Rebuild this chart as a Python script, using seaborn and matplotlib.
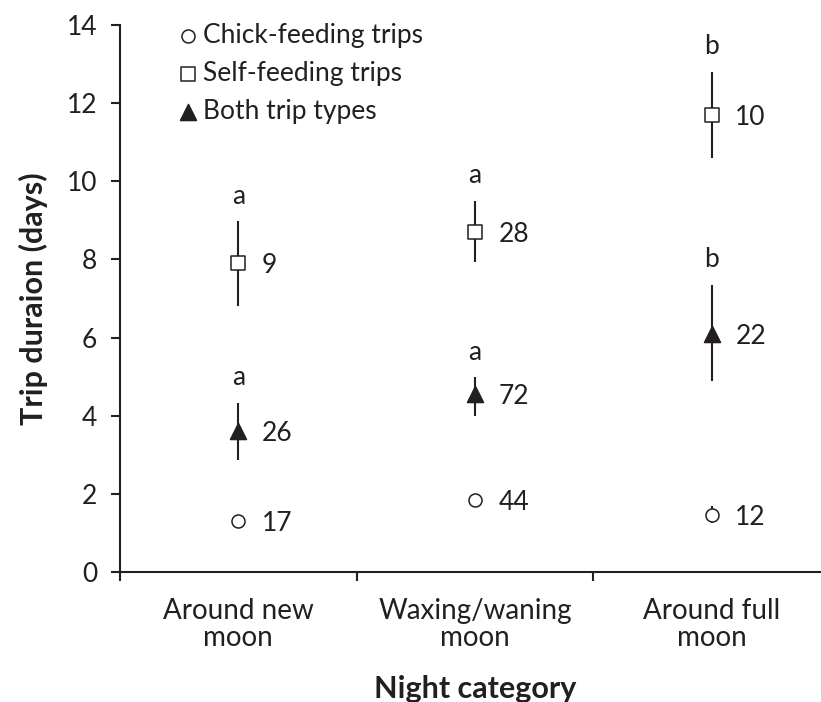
import matplotlib
matplotlib.use("Agg")
import matplotlib.pyplot as plt
import seaborn as sns
import numpy as np

# ---- data ----
categories = ["Around new\nmoon", "Waxing/waning\nmoon", "Around full\nmoon"]

chick_mean = [1.30, 1.83, 1.45]
chick_lo = [1.15, 1.68, 1.25]
chick_hi = [1.45, 1.98, 1.70]
chick_n = [17, 44, 12]

self_mean = [7.90, 8.70, 11.70]
self_lo = [6.80, 7.93, 10.60]
self_hi = [8.98, 9.50, 12.80]
self_n = [9, 28, 10]
self_letters = ["a", "a", "b"]

both_mean = [3.60, 4.55, 6.10]
both_lo = [2.87, 3.99, 4.90]
both_hi = [4.33, 4.99, 7.35]
both_n = [26, 72, 22]
both_letters = ["a", "a", "b"]

y_ticks = [0, 2, 4, 6, 8, 10, 12, 14]

sns.set_theme(style="white")
plt.rcParams['font.family'] = ['Lato', 'DejaVu Sans']
INK = '#231f20'
plt.rcParams['text.color'] = INK
plt.rcParams['axes.labelcolor'] = INK
plt.rcParams['xtick.color'] = INK
plt.rcParams['ytick.color'] = INK

FS = 19

fig = plt.figure(figsize=(8.21, 7.02), dpi=100)
ax = fig.add_axes([120/821, 1 - 572/702, 710/821, 547/702])

pos = np.arange(len(categories))

series = [
    ("Chick-feeding trips", chick_mean, chick_lo, chick_hi, chick_n, None, 'o', 'white', 88),
    ("Self-feeding trips", self_mean, self_lo, self_hi, self_n, self_letters, 's', 'white', 88),
    ("Both trip types", both_mean, both_lo, both_hi, both_n, both_letters, '^', INK, 133),
]

for label, m, lo, hi, n, lets, mk, fc, s in series:
    m = np.asarray(m); lo = np.asarray(lo); hi = np.asarray(hi)
    ax.errorbar(pos, m, yerr=[m - lo, hi - m], fmt='none', ecolor=INK,
                elinewidth=1.5, capsize=0, zorder=2)
    sns.scatterplot(x=pos, y=m, marker=mk, s=s, color=fc, edgecolor=INK,
                    linewidth=1.1, zorder=3, label=label, legend=False, ax=ax)
    for xi, yi, ni in zip(pos, m, n):
        ax.annotate(str(ni), (xi, yi), xytext=(17, 0), textcoords='offset points',
                    ha='left', va='center_baseline', fontsize=FS)
    if lets is not None:
        for xi, yt, li in zip(pos, hi, lets):
            ax.annotate(li, (xi, yt), xytext=(0, 9), textcoords='offset points',
                        ha='center', va='bottom', fontsize=FS)

ax.set_xlim(-0.5, 2.5)
ax.set_ylim(0, 14)
ax.set_yticks(y_ticks)
ax.set_yticklabels([str(t) for t in y_ticks], fontsize=FS)
ax.set_xticks(pos)
ax.set_xticklabels(categories, fontsize=20, linespacing=1.05)
ax.set_xticks(np.arange(-0.5, 3.0, 1.0), minor=True)
ax.tick_params(axis='x', which='major', length=0, pad=19)
ax.tick_params(axis='x', which='minor', length=6.5, width=1.5, direction='out', bottom=True)
ax.tick_params(axis='y', which='major', length=6.5, width=1.5, direction='out', left=True, pad=10)

for sp in ['top', 'right']:
    ax.spines[sp].set_visible(False)
for sp in ['left', 'bottom']:
    ax.spines[sp].set_linewidth(1.5)
    ax.spines[sp].set_color(INK)

ax.set_xlabel("Night category", fontsize=22, fontweight='bold', labelpad=17)
ax.set_ylabel("Trip duraion (days)", fontsize=22, fontweight='bold', labelpad=13)

ax.legend(loc='upper left', bbox_to_anchor=(178/821, 1 - 23/702),
          bbox_transform=fig.transFigure, frameon=False, fontsize=FS,
          handlelength=0.72, handletextpad=0.24, labelspacing=0.5,
          borderpad=0, borderaxespad=0, scatterpoints=1)

fig.savefig("out.png", dpi=100)
